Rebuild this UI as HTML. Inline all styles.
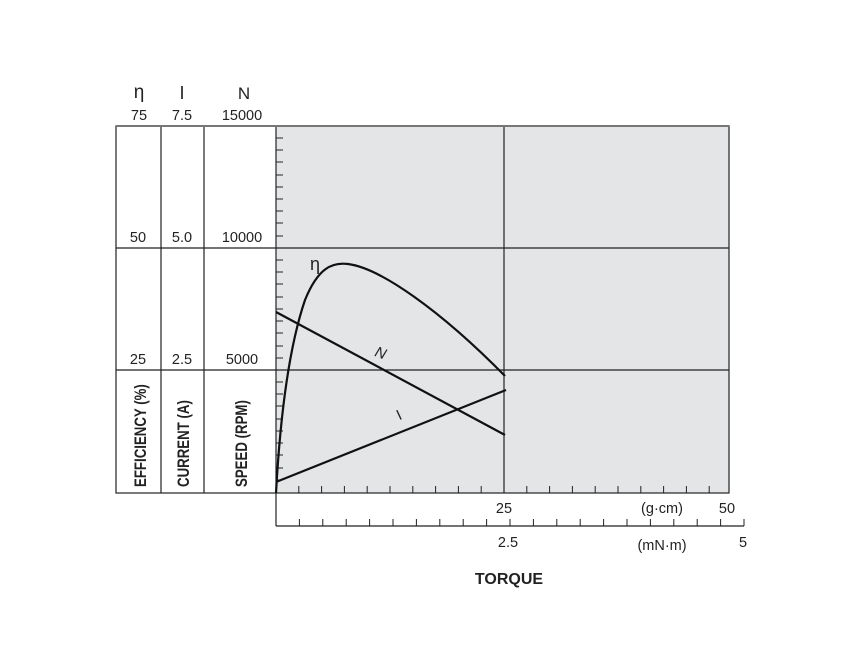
<!DOCTYPE html><html><head><style>body{margin:0;background:#fff}svg{display:block}text{font-family:"Liberation Sans",sans-serif;fill:#222}</style></head><body>
<svg width="866" height="658" viewBox="0 0 866 658" xmlns="http://www.w3.org/2000/svg">
<rect x="276" y="126" width="453" height="367" fill="#e4e5e7"/>
<g stroke="#222" stroke-width="1.2" fill="none">
<rect x="116" y="126" width="613" height="367"/>
<line x1="161" y1="126" x2="161" y2="493"/><line x1="204" y1="126" x2="204" y2="493"/><line x1="276" y1="126" x2="276" y2="526"/>
<line x1="116" y1="248" x2="729" y2="248"/><line x1="116" y1="370" x2="729" y2="370"/>
<line x1="504" y1="126" x2="504" y2="493"/>
<line x1="276" y1="526" x2="744" y2="526"/>
</g>
<line x1="116" y1="126" x2="729" y2="126" stroke="#777" stroke-width="2"/>
<g stroke="#222" stroke-width="1">
<path d="M276 138h7M276 150h7M276 162h7M276 175h7M276 187h7M276 199h7M276 211h7M276 223h7M276 236h7M276 260h7M276 272h7M276 284h7M276 297h7M276 309h7M276 321h7M276 333h7M276 346h7M276 358h7M276 382h7M276 394h7M276 406h7M276 419h7M276 431h7M276 443h7M276 455h7M276 468h7M276 480h7"/>
<path d="M298.8 493v-7M321.6 493v-7M344.4 493v-7M367.2 493v-7M390 493v-7M412.8 493v-7M435.6 493v-7M458.4 493v-7M481.2 493v-7M526.8 493v-7M549.6 493v-7M572.4 493v-7M595.2 493v-7M618 493v-7M640.8 493v-7M663.6 493v-7M686.4 493v-7M709.2 493v-7"/>
<path d="M299.4 526v-7M322.8 526v-7M346.2 526v-7M369.6 526v-7M393 526v-7M416.4 526v-7M439.8 526v-7M463.2 526v-7M486.6 526v-7M510 526v-7M533.4 526v-7M556.8 526v-7M580.2 526v-7M603.6 526v-7M627 526v-7M650.4 526v-7M673.8 526v-7M697.2 526v-7M720.6 526v-7M744 526v-7"/>
</g>
<g stroke="#111" stroke-width="2.2" fill="none">
<line x1="276" y1="312" x2="505" y2="435"/>
<line x1="276" y1="482" x2="506" y2="390"/>
<path d="M276 493 C280 420,288 350,305 300 C318 268,332 262,348 264 C380 268,440 310,505 376"/>
</g>
<g font-size="14.5" text-anchor="middle">
<text x="139" y="120">75</text><text x="182" y="120">7.5</text><text x="242" y="120">15000</text>
<text x="138" y="242">50</text><text x="182" y="242">5.0</text><text x="242" y="242">10000</text>
<text x="138" y="364">25</text><text x="182" y="364">2.5</text><text x="242" y="364">5000</text>
<text x="139" y="98" font-size="19">η</text><text x="182" y="99" font-size="18">I</text><text x="244" y="99" font-size="17">N</text>
<text x="504" y="513">25</text><text x="662" y="513">(g·cm)</text><text x="727" y="513">50</text>
<text x="508" y="547">2.5</text><text x="662" y="550">(mN·m)</text><text x="743" y="547">5</text>
<text x="509" y="584" font-size="16" font-weight="bold">TORQUE</text>
<text x="315" y="270" font-size="18">η</text>
<text x="381" y="358" font-size="15" font-style="italic" transform="rotate(20 381 352)">N</text>
<text x="399" y="420" font-size="15" transform="rotate(-25 399 415)">I</text>
</g>
<g font-size="17" font-weight="bold" text-anchor="start">
<text transform="translate(146 487) rotate(-90) scale(0.78 1)">EFFICIENCY (%)</text>
<text transform="translate(189 487) rotate(-90) scale(0.78 1)">CURRENT (A)</text>
<text transform="translate(247 487) rotate(-90) scale(0.78 1)">SPEED (RPM)</text>
</g>
</svg></body></html>
